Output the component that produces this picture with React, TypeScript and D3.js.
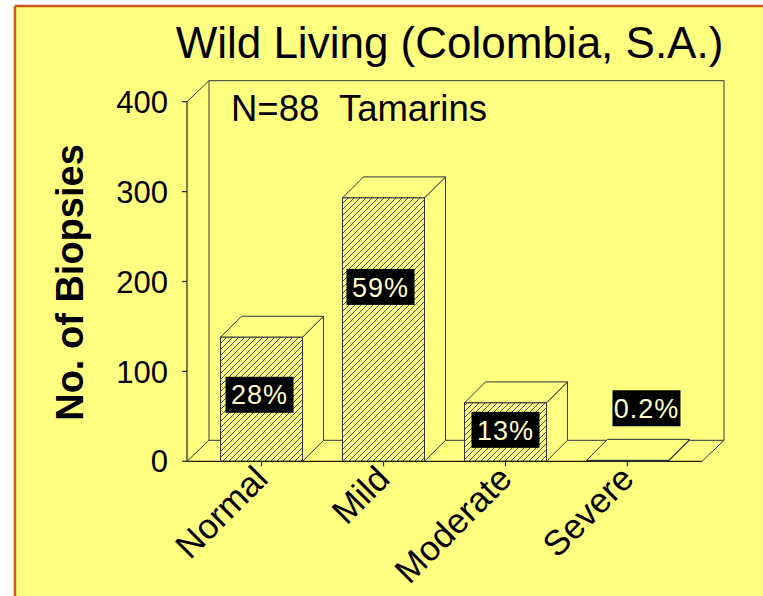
import React from "react";
import * as d3 from "d3";

const categories = ["Normal", "Mild", "Moderate", "Severe"];
const biopsies = [138, 293, 65, 1];
const percentLabels = ["28%", "59%", "13%", "0.2%"];
const yTicks = [0, 100, 200, 300, 400];
// where the percentage boxes sit (data units along the y axis)
const labelAt = [74, 194, 35, 59];
const labelShift = [-2, -3, 0, 19];

const W = 763;
const H = 596;
const FONT = "'Liberation Sans', Arial, Helvetica, sans-serif";
const BG = "#ffff80";
const LINE = "#333340";
const HATCH = "#4a4a6a";
const DX = 22;
const DY = -21;
const BDX = 21;
const BDY = -21;

export default function App() {
  const y = d3.scaleLinear().domain([0, 400]).range([461.3, 101.7]);
  const x = d3
    .scaleBand<string>()
    .domain(categories)
    .range([187, 702])
    .paddingInner(0.328)
    .paddingOuter(0.275);
  const x0 = x.range()[0];
  const x1 = x.range()[1];
  const y0 = y(0);
  const yTop = y(400);
  const bw = x.bandwidth();

  const poly = (pts: [number, number][]) => pts.map((p) => p.join(",")).join(" ");

  return (
    <svg
      width={W}
      height={H}
      style={{ position: "absolute", left: 0, top: 0, background: "#ffffff" }}
      fontFamily={FONT}
    >
      <defs>
        <pattern id="hatch" patternUnits="userSpaceOnUse" width={6} height={6}>
          <rect width={6} height={6} fill={BG} />
          <path d="M-1,1 L1,-1 M0,6 L6,0 M5,7 L7,5" stroke={HATCH} strokeWidth={1} />
        </pattern>
      </defs>
      {/* panel background */}
      <rect x={15} y={6} width={W - 15} height={H - 6} fill={BG} />
      <line x1={15} y1={6} x2={W} y2={6} stroke="#c8561f" strokeWidth={2.5} />
      <line x1={15} y1={6} x2={15} y2={H} stroke="#c8561f" strokeWidth={2.5} />

      {/* title */}
      <text x={449.5} y={57.5} fontSize={44} textAnchor="middle" fill="#000">
        Wild Living (Colombia, S.A.)
      </text>

      {/* back wall */}
      <polyline
        points={poly([
          [x0, yTop],
          [x0 + DX, yTop + DY],
          [x1 + DX, yTop + DY],
          [x1 + DX, y0 + DY],
        ])}
        fill="none"
        stroke={LINE}
        strokeWidth={1}
      />
      <line x1={x0 + DX} y1={yTop + DY} x2={x0 + DX} y2={y0 + DY} stroke={LINE} strokeWidth={1} />
      {/* floor */}
      <polyline
        points={poly([
          [x0, y0],
          [x0 + DX, y0 + DY],
          [x1 + DX, y0 + DY],
          [x1, y0],
        ])}
        fill="none"
        stroke={LINE}
        strokeWidth={1}
      />

      {/* N label */}
      <text x={231} y={120.5} fontSize={36.5} fill="#000" style={{ whiteSpace: "pre" }}>
        {"N=88  Tamarins"}
      </text>

      {/* bars */}
      {categories.map((c, i) => {
        const left = x(c)!;
        const right = left + bw;
        const top = y(biopsies[i]);
        return (
          <g key={c}>
            <polygon
              points={poly([
                [right, top],
                [right + BDX, top + BDY],
                [right + BDX, y0 + BDY],
                [right, y0],
              ])}
              fill={BG}
              stroke={LINE}
              strokeWidth={1}
              strokeLinejoin="round"
            />
            <polygon
              points={poly([
                [left, top],
                [left + BDX, top + BDY],
                [right + BDX, top + BDY],
                [right, top],
              ])}
              fill={BG}
              stroke={LINE}
              strokeWidth={1}
              strokeLinejoin="round"
            />
            <rect
              x={left}
              y={top}
              width={bw}
              height={y0 - top}
              fill="url(#hatch)"
              stroke={LINE}
              strokeWidth={1}
            />
          </g>
        );
      })}

      {/* axes */}
      <line x1={x0} y1={yTop} x2={x0} y2={y0} stroke="#222" strokeWidth={1.2} />
      <line x1={x0} y1={y0} x2={x1} y2={y0} stroke="#222" strokeWidth={1.2} />
      {yTicks.map((t) => (
        <g key={t}>
          <line x1={x0 - 5} y1={y(t)} x2={x0} y2={y(t)} stroke="#222" strokeWidth={1.2} />
          <text
            x={168}
            y={y(t)}
            dy="0.36em"
            fontSize={31}
            textAnchor="end"
            fill="#000"
          >
            {t}
          </text>
        </g>
      ))}
      {categories.map((c) => {
        const cx = x(c)! + bw / 2;
        return (
          <g key={c}>
            <line x1={cx} y1={y0} x2={cx} y2={y0 + 5} stroke="#222" strokeWidth={1.2} />
            <text
              transform={`translate(${cx - 9},${y0 + 2}) rotate(-45)`}
              fontSize={35}
              textAnchor="end"
              dy="0.7em"
              fill="#000"
            >
              {c}
            </text>
          </g>
        );
      })}

      {/* y axis title */}
      <text
        transform={`translate(83,282.5) rotate(-90)`}
        fontSize={38}
        fontWeight="bold"
        textAnchor="middle"
        fill="#000"
      >
        No. of Biopsies
      </text>

      {/* percentage boxes */}
      {categories.map((c, i) => {
        const cx = x(c)! + bw / 2 + labelShift[i];
        const cy = y(labelAt[i]);
        return (
          <g key={c}>
            <rect x={cx - 34} y={cy - 18} width={68} height={36} fill="#000" />
            <text
              x={cx}
              y={cy}
              dy="0.36em"
              fontSize={27}
              textAnchor="middle"
              fill="#ffffcc"
              letterSpacing={1}
            >
              {percentLabels[i]}
            </text>
          </g>
        );
      })}
    </svg>
  );
}
